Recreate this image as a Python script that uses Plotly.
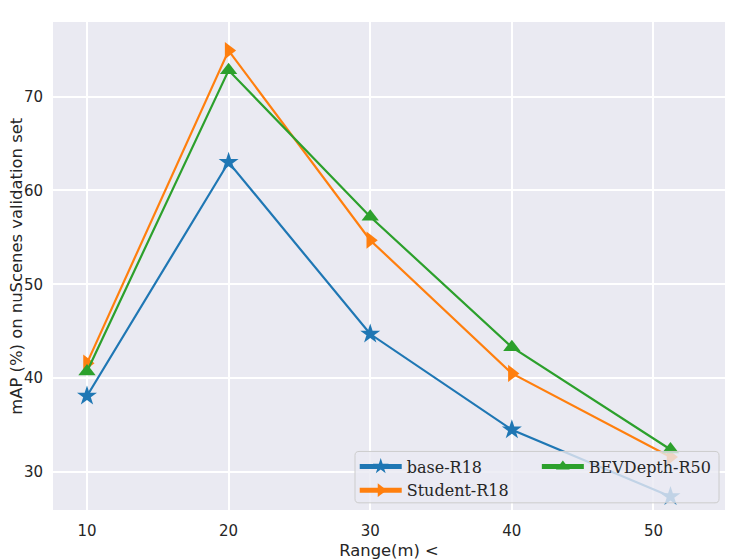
import plotly.graph_objects as go

# detection range buckets (m) and mAP values
ranges = [10, 20, 30, 40, 51.2]
base_r18 = [38.1, 63.0, 44.7, 34.5, 27.4]
student_r18 = [41.6, 74.9, 54.7, 40.5, 31.6]
bevdepth_r50 = [40.7, 72.8, 57.2, 43.3, 32.4]

x_ticks = [10, 20, 30, 40, 50]
y_ticks = [30, 40, 50, 60, 70]

BLUE = '#1f77b4'
ORANGE = '#ff7f0e'
GREEN = '#2ca02c'
BG = '#EAEAF2'
TXT = '#262626'

fig = go.Figure()
fig.add_trace(go.Scatter(x=ranges, y=base_r18, name='base-R18', mode='lines+markers',
                         line=dict(color=BLUE, width=2.2),
                         marker=dict(symbol='star', size=15, color=BLUE, line=dict(width=0)),
                         legend='legend', legendrank=1))
fig.add_trace(go.Scatter(x=ranges, y=student_r18, name='Student-R18', mode='lines+markers',
                         line=dict(color=ORANGE, width=2.2),
                         marker=dict(symbol='triangle-right', size=15, color=ORANGE, line=dict(width=0)),
                         legend='legend', legendrank=2))
fig.add_trace(go.Scatter(x=ranges, y=bevdepth_r50, name='BEVDepth-R50', mode='lines+markers',
                         line=dict(color=GREEN, width=2.2),
                         marker=dict(symbol='triangle-up', size=15, color=GREEN, line=dict(width=0)),
                         legend='legend2', legendrank=3))

# legend frame (one box round both legend columns, like matplotlib ncol=2)
x0, x1, y0, y1, r = 0.4494, 0.9911, 0.0147, 0.1200, 0.006
ry = r * 672 / 488.5
fig.add_shape(type='path', xref='paper', yref='paper', layer='above',
              path=(f"M {x0+r},{y0} L {x1-r},{y0} Q {x1},{y0} {x1},{y0+ry} "
                    f"L {x1},{y1-ry} Q {x1},{y1} {x1-r},{y1} L {x0+r},{y1} "
                    f"Q {x0},{y1} {x0},{y1-ry} L {x0},{y0+ry} Q {x0},{y0} {x0+r},{y0} Z"),
              fillcolor='rgba(234,234,242,0.8)', line=dict(color='#cccccc', width=1))

# y label placed by hand so it sits left of the tick labels, as in the original
fig.add_annotation(text='mAP (%) on nuScenes validation set', xref='paper', yref='paper',
                   x=-0.0555, y=0.5, xanchor='center', yanchor='middle', textangle=-90,
                   showarrow=False, font=dict(family='DejaVu Sans', size=16.4, color=TXT))

legend_font = dict(family='DejaVu Serif', size=16, color=TXT)
fig.update_layout(
    # page body has an 8px margin, so the figure is a little smaller than the window
    width=739, height=552,
    margin=dict(l=45, r=22, t=14, b=49.5),
    paper_bgcolor='white', plot_bgcolor=BG,
    font=dict(family='DejaVu Sans', size=15, color=TXT),
    legend=dict(x=0.449, y=0.124, xanchor='left', yanchor='top', orientation='v',
                bgcolor='rgba(0,0,0,0)', borderwidth=0, font=legend_font,
                tracegroupgap=0, itemsizing='constant', itemwidth=42),
    legend2=dict(x=0.72, y=0.124, xanchor='left', yanchor='top', orientation='v',
                 bgcolor='rgba(0,0,0,0)', borderwidth=0, font=legend_font,
                 itemsizing='constant', itemwidth=42),
    xaxis=dict(range=[7.6, 55.05], tickvals=x_ticks, showgrid=True, gridcolor='white',
               gridwidth=1.5, zeroline=False, showline=False, ticks='',
               ticklabelstandoff=10, automargin=False,
               title=dict(text='Range(m) <', standoff=5, font=dict(size=16.4))),
    yaxis=dict(range=[25.95, 77.95], tickvals=y_ticks, showgrid=True, gridcolor='white',
               gridwidth=1.5, zeroline=False, showline=False, ticks='',
               ticklabelstandoff=9, automargin=False),
)

fig.write_html("out.html")
